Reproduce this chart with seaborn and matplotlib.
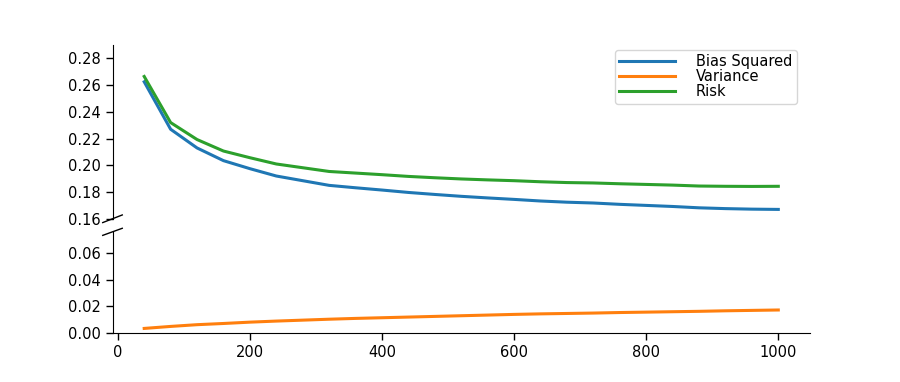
import numpy as np
import pandas as pd
import matplotlib
matplotlib.use("Agg")
import matplotlib.pyplot as plt
from matplotlib.ticker import FormatStrFormatter
import seaborn as sns

# ---- data ----
n_samples = [40, 80, 120, 160, 200, 240, 280, 320, 360, 400, 440, 480, 520,
             560, 600, 640, 680, 720, 760, 800, 840, 880, 920, 960, 1000]
bias_squared = [0.2625, 0.2270, 0.2130, 0.2035, 0.1975, 0.1920, 0.1885, 0.1850,
                0.1832, 0.1815, 0.1797, 0.1782, 0.1768, 0.1756, 0.1745, 0.1733,
                0.1724, 0.1718, 0.1708, 0.1700, 0.1692, 0.1682, 0.1676, 0.1672,
                0.1670]
variance = [0.0035, 0.0050, 0.0063, 0.0072, 0.0082, 0.0090, 0.0097, 0.0104,
            0.0110, 0.0115, 0.0120, 0.0125, 0.0130, 0.0135, 0.0140, 0.0144,
            0.0147, 0.0150, 0.0154, 0.0157, 0.0160, 0.0163, 0.0167, 0.0170,
            0.0173]
risk = [0.2665, 0.2320, 0.2193, 0.2107, 0.2057, 0.2010, 0.1982, 0.1954,
        0.1942, 0.1930, 0.1917, 0.1907, 0.1898, 0.1891, 0.1885, 0.1877,
        0.1871, 0.1868, 0.1862, 0.1857, 0.1852, 0.1845, 0.1843, 0.1842,
        0.1843]
series_names = ["Bias Squared", "Variance", "Risk"]
series_colors = ["#1f77b4", "#ff7f0e", "#2ca02c"]
top_ticks = [0.16, 0.18, 0.20, 0.22, 0.24, 0.26, 0.28]
bottom_ticks = [0.00, 0.02, 0.04, 0.06]
x_ticks = [0, 200, 400, 600, 800, 1000]

df = pd.DataFrame({
    "n": n_samples * 3,
    "value": bias_squared + variance + risk,
    "series": [s for s in series_names for _ in n_samples],
})

plt.rcParams["font.family"] = ["DejaVu Sans"]

fig, (ax_top, ax_bot) = plt.subplots(
    2, 1, sharex=True, figsize=(9, 3.82), dpi=100,
    gridspec_kw={"height_ratios": [0.13, 0.0758]})
fig.subplots_adjust(left=0.125, right=0.9, top=0.882, bottom=0.128, hspace=0.095)

for i, ax in enumerate((ax_top, ax_bot)):
    sns.lineplot(data=df, x="n", y="value", hue="series", hue_order=series_names,
                 palette=series_colors, linewidth=2.2, ax=ax, legend=(i == 0))
    ax.set_xlabel("")
    ax.set_ylabel("")
    ax.spines["top"].set_visible(False)
    ax.spines["right"].set_visible(False)
    ax.tick_params(axis="both", labelsize=10.5, length=5, width=1)
    ax.yaxis.set_major_formatter(FormatStrFormatter("%.2f"))

ax_top.set_ylim(0.16, 0.29)
ax_bot.set_ylim(0.0, 0.0758)
ax_top.set_yticks(top_ticks)
ax_bot.set_yticks(bottom_ticks)
ax_bot.set_xticks(x_ticks)
ax_bot.set_xlim(-8, 1048)
ax_top.spines["bottom"].set_visible(False)
ax_top.tick_params(axis="x", bottom=False, labelbottom=False)

# legend
handles, labels = ax_top.get_legend_handles_labels()
ax_top.legend(handles, labels, loc="upper right", bbox_to_anchor=(0.981, 0.972),
              borderaxespad=0.0, fontsize=10.5,
              handlelength=3.8, handletextpad=1.45, labelspacing=0.0,
              borderpad=0.3, framealpha=0.8, edgecolor="#cccccc")

# break marks on the left spine
dx = 0.014
ax_top.plot([-dx, dx], [-0.022, 0.022], transform=ax_top.transAxes,
            color="k", lw=1, clip_on=False)
ax_bot.plot([-dx, dx], [1 - 0.035, 1 + 0.035], transform=ax_bot.transAxes,
            color="k", lw=1, clip_on=False)

fig.savefig("out.png", dpi=100)
